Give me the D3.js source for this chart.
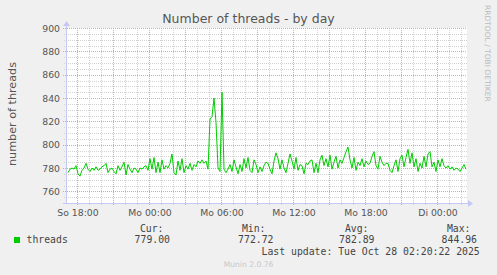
<!DOCTYPE html>
<html>
<head>
<meta charset="utf-8">
<script src="https://cdn.jsdelivr.net/npm/d3@7"></script>
<style>
  html, body { margin: 0; padding: 0; background: #f0f0f0; }
  svg { display: block; }
  text { font-family: "DejaVu Sans", sans-serif; fill: #555; }
  text.mono { font-family: "DejaVu Sans Mono", monospace; fill: #444; }
</style>
</head>
<body>
<div id="chart"></div>
<script>
var title = "Number of threads - by day";
var yLabel = "number of threads";
var dayNames = ["So", "Mo", "Di", "Mi", "Do", "Fr", "Sa"];
var yTicks = [760, 780, 800, 820, 840, 860, 880, 900];

// samples every 10 minutes starting Sun 17:15
var startTime = Date.UTC(2025, 9, 26, 17, 15);
var stepMinutes = 10;
var threads = [
  776, 779, 780, 779, 782, 775, 773, 778, 780, 784,
  779, 777, 780, 778, 781, 778, 779, 781, 782, 784,
  776, 779, 780, 777, 775, 782, 778, 781, 785, 774,
  783, 779, 776, 780, 779, 776, 780, 779, 781, 782,
  778, 788, 779, 789, 776, 785, 776, 787, 779, 782,
  780, 784, 792, 776, 774, 786, 778, 788, 776, 782,
  779, 784, 778, 783, 781, 786, 784, 787, 784, 786,
  779, 822, 824, 840, 819, 780, 777, 844.96, 779, 776,
  779, 783, 777, 787, 781, 775, 783, 777, 788, 780,
  789, 778, 776, 787, 783, 776, 781, 777, 782, 785,
  784, 779, 775, 786, 793, 788, 779, 787, 780, 776,
  784, 792, 786, 779, 789, 778, 783, 782, 775, 784,
  783, 786, 787, 776, 784, 776, 787, 791, 782, 788,
  781, 791, 779, 785, 790, 780, 787, 784, 789, 794,
  798, 787, 780, 789, 778, 785, 782, 788, 781, 786,
  783, 784, 790, 794, 782, 779, 790, 785, 782, 784,
  784, 778, 776, 782, 787, 777, 788, 791, 781, 789,
  796, 784, 793, 781, 788, 777, 784, 780, 790, 781,
  792, 794, 781, 785, 777, 787, 781, 788, 782, 780,
  782, 779, 781, 778, 780, 779, 777, 780, 783, 779
];

var seriesName = "threads";
var legendHeads = ["Cur:", "Min:", "Avg:", "Max:"];
var legendVals = ["779.00", "772.72", "782.89", "844.96"];
var lastUpdate = "Last update: Tue Oct 28 02:20:22 2025";
var credit = "Munin 2.0.76";
var rrdCredit = "RRDTOOL / TOBI OETIKER";

var W = 497, H = 275;
var plot = {left: 67, right: 467, top: 28, bottom: 203};

var data = threads.map(function (v, i) {
  return {t: new Date(startTime + i * stepMinutes * 60000), v: v};
});

var x = d3.scaleUtc()
  .domain([new Date(Date.UTC(2025, 9, 26, 17, 10)), new Date(Date.UTC(2025, 9, 28, 2, 30))])
  .range([plot.left, plot.right]);
var y = d3.scaleLinear().domain([750, 900]).range([plot.bottom, plot.top]);

var svg = d3.select("#chart").append("svg")
  .attr("width", W).attr("height", H);

svg.append("rect")
  .attr("x", plot.left).attr("y", plot.top)
  .attr("width", plot.right - plot.left).attr("height", plot.bottom - plot.top)
  .attr("fill", "#fff");

var px = function (v) { return Math.round(v) + 0.5; };
var minorCol = "#d2d2d2", majorCol = "#e6a2a2";

var grid = svg.append("g").attr("shape-rendering", "crispEdges");

// minor grid
var hours = d3.utcHour.range(x.domain()[0], x.domain()[1]).filter(function (d) {
  return d.getUTCHours() % 3 !== 0;
});
grid.selectAll(".vmin").data(hours).enter().append("line")
  .attr("x1", function (d) { return px(x(d)); }).attr("x2", function (d) { return px(x(d)); })
  .attr("y1", plot.top).attr("y2", plot.bottom + 2)
  .attr("stroke", minorCol).attr("stroke-dasharray", "1,1");
var minorY = d3.range(755, 901, 5).filter(function (v) { return v % 20 !== 0; });
grid.selectAll(".hmin").data(minorY).enter().append("line")
  .attr("x1", plot.left - 3).attr("x2", plot.right)
  .attr("y1", function (d) { return px(y(d)); }).attr("y2", function (d) { return px(y(d)); })
  .attr("stroke", minorCol).attr("stroke-dasharray", "1,1");

// major grid
var majorX = d3.utcHour.every(3).range(x.domain()[0], x.domain()[1]);
grid.selectAll(".vmaj").data(majorX).enter().append("line")
  .attr("x1", function (d) { return px(x(d)); }).attr("x2", function (d) { return px(x(d)); })
  .attr("y1", plot.top).attr("y2", plot.bottom + 3)
  .attr("stroke", majorCol).attr("stroke-dasharray", "1,1");
grid.selectAll(".hmaj").data(yTicks).enter().append("line")
  .attr("x1", plot.left - 4).attr("x2", plot.right)
  .attr("y1", function (d) { return px(y(d)); }).attr("y2", function (d) { return px(y(d)); })
  .attr("stroke", majorCol).attr("stroke-dasharray", "1,1");

// axes
var axisCol = "#c4c8f2";
grid.append("line").attr("x1", plot.left - 0.5).attr("x2", plot.left - 0.5)
  .attr("y1", plot.top - 3).attr("y2", plot.bottom + 1).attr("stroke", axisCol);
grid.append("line").attr("x1", plot.left - 4).attr("x2", plot.right + 2)
  .attr("y1", plot.bottom + 0.5).attr("y2", plot.bottom + 0.5).attr("stroke", axisCol);
svg.append("path")
  .attr("d", "M" + (plot.left - 4) + "," + (plot.top - 2) + "L" + (plot.left - 0.5) + "," + (plot.top - 7) +
    "L" + (plot.left + 3) + "," + (plot.top - 2) + "Z")
  .attr("fill", axisCol);
svg.append("path")
  .attr("d", "M" + (plot.right + 1) + "," + (plot.bottom - 3) + "L" + (plot.right + 6) + "," + (plot.bottom + 0.5) +
    "L" + (plot.right + 1) + "," + (plot.bottom + 4) + "Z")
  .attr("fill", axisCol);

// tick labels
svg.selectAll(".ylab").data(yTicks).enter().append("text")
  .attr("x", 60).attr("y", function (d) { return y(d) + 3.5; })
  .attr("text-anchor", "end").style("font-size", "9.3px")
  .text(function (d) { return d; });

var labelX = d3.utcHour.every(6).range(x.domain()[0], x.domain()[1]);
var fmt = d3.utcFormat("%H:%M");
svg.selectAll(".xlab").data(labelX).enter().append("text")
  .attr("x", function (d) { return x(d) + 1; }).attr("y", 216)
  .attr("text-anchor", "middle").style("font-size", "9.3px")
  .text(function (d) { return dayNames[d.getUTCDay()] + " " + fmt(d); });

// series
var line = d3.line()
  .x(function (d) { return x(d.t); })
  .y(function (d) { return y(d.v); });
svg.append("path").datum(data)
  .attr("d", line).attr("fill", "none")
  .attr("stroke", "#00cc00").attr("stroke-width", 1);

// titles
svg.append("text").attr("x", 248.5).attr("y", 23)
  .attr("text-anchor", "middle").style("font-size", "12.5px").text(title);
svg.append("text").attr("transform", "translate(15.5,114) rotate(-90)")
  .attr("text-anchor", "middle").style("font-size", "11.2px").text(yLabel);
svg.append("text").attr("transform", "translate(485,5) rotate(90)")
  .style("font-size", "7.5px").style("fill", "#bbb").text(rrdCredit);

// legend
svg.append("rect").attr("x", 14).attr("y", 237).attr("width", 6).attr("height", 6)
  .attr("fill", "#00cc00");
svg.append("text").attr("class", "mono").attr("x", 26.5).attr("y", 243)
  .style("font-size", "9.8px").text(seriesName);

var headEnds = [163.5, 265.5, 368.5, 470.5];
var valEnds = [170, 273.5, 374.5, 477];
svg.selectAll(".lhead").data(legendHeads).enter().append("text")
  .attr("class", "mono").attr("text-anchor", "end")
  .attr("x", function (d, i) { return headEnds[i]; }).attr("y", 231.5)
  .style("font-size", "9.8px").text(function (d) { return d; });
svg.selectAll(".lval").data(legendVals).enter().append("text")
  .attr("class", "mono").attr("text-anchor", "end")
  .attr("x", function (d, i) { return valEnds[i]; }).attr("y", 243)
  .style("font-size", "9.8px").text(function (d) { return d; });
svg.append("text").attr("class", "mono").attr("x", 261.5).attr("y", 255)
  .style("font-size", "9.8px").text(lastUpdate);

svg.append("text").attr("x", 248.5).attr("y", 267)
  .attr("text-anchor", "middle").style("font-size", "7.6px").style("fill", "#c8c8c8")
  .text(credit);
</script>
</body>
</html>
